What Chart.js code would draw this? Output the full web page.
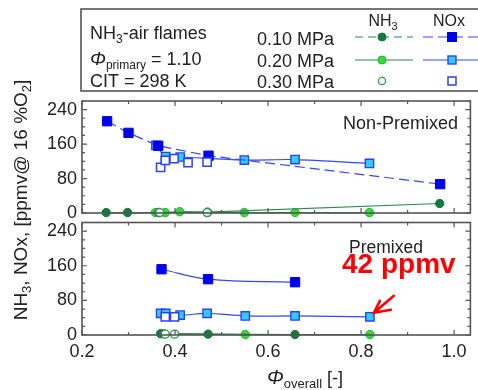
<!DOCTYPE html>
<html>
<head>
<meta charset="utf-8">
<script src="https://cdn.jsdelivr.net/npm/chart.js@4.4.1/dist/chart.umd.min.js"></script>
<style>
  body { margin: 0; background: #fff; }
  #wrap { position: relative; width: 478px; height: 390px; }
  #wrap canvas { position: absolute; left: 0; top: 0; }
</style>
</head>
<body>
<div id="wrap">
  <canvas id="botChart" width="478" height="390"></canvas>
  <canvas id="topChart" width="478" height="390"></canvas>
</div>
<script>
// axis ticks
const xTicks = [0.2, 0.4, 0.6, 0.8, 1.0];
const yTicks = [0, 80, 160, 240];

// Non-Premixed panel (top)
const np_nox010_x = [0.254, 0.300, 0.364, 0.472, 0.970];
const np_nox010_y = [213, 186, 156, 133, 67];
const np_nox020_x = [0.359, 0.380, 0.411, 0.549, 0.658, 0.818];
const np_nox020_y = [157, 131, 130, 123, 124, 115];
const np_nox030_x = [0.369, 0.379, 0.398, 0.428, 0.469];
const np_nox030_y = [106, 122, 126, 117, 118];
const np_nh3010_x = [0.252, 0.298, 0.365, 0.470, 0.969];
const np_nh3010_y = [1, 1, 1, 2, 22];
const np_nh3020_x = [0.358, 0.379, 0.410, 0.549, 0.658, 0.818];
const np_nh3020_y = [1, 1, 3, 1, 1, 1];
const np_nh3030_x = [0.367, 0.469];
const np_nh3030_y = [1, 1];

// Premixed panel (bottom)
const pm_nox010_x = [0.371, 0.471, 0.658];
const pm_nox010_y = [152, 129, 122];
const pm_nox020_x = [0.369, 0.380, 0.411, 0.469, 0.551, 0.658, 0.819];
const pm_nox020_y = [50, 50, 46, 50, 44, 44, 42];
const pm_nox030_x = [0.379, 0.399];
const pm_nox030_y = [42, 42];
const pm_nh3010_x = [0.369, 0.471, 0.658];
const pm_nh3010_y = [3, 2, 1];
const pm_nh3020_x = [0.375, 0.551, 0.819];
const pm_nh3020_y = [3, 1, 1];
const pm_nh3030_x = [0.379, 0.399];
const pm_nh3030_y = [2, 2];

const FONT = "'Liberation Sans', Arial, sans-serif";
const TXT = "#222";
Chart.defaults.font.family = FONT;

function pts(xs, ys) { return xs.map((x, i) => ({ x: x, y: ys[i] })); }

function noxSet(data, kind, dashed, tension) {
  const s = {
    data: data, showLine: kind !== 30, clip: false, borderWidth: 1.2,
    pointStyle: "rect", borderColor: "#3348f0", borderDash: dashed ? [10, 5] : [],
    tension: tension, order: 1
  };
  if (kind === 10) { s.pointRadius = 6.6; s.pointBackgroundColor = "#0000ee"; s.pointBorderColor = "#0000dd"; s.pointBorderWidth = 1; }
  if (kind === 20) { s.pointRadius = 5.9; s.pointBackgroundColor = "#33ccff"; s.pointBorderColor = "#2a40ff"; s.pointBorderWidth = 1.4; }
  if (kind === 30) { s.pointRadius = 5.8; s.pointBackgroundColor = "#ffffff"; s.pointBorderColor = "#2a40ff"; s.pointBorderWidth = 1.5; s.order = 0; }
  return s;
}
function nh3Set(data, kind, tension) {
  const s = {
    data: data, showLine: kind !== 30, clip: false, borderWidth: 1.2,
    pointStyle: "circle", borderColor: "#2a8a4c", tension: tension, order: 3
  };
  if (kind === 10) { s.pointRadius = 4.2; s.pointBackgroundColor = "#147a3c"; s.pointBorderColor = "#147a3c"; s.pointBorderWidth = 1; }
  if (kind === 20) { s.pointRadius = 4.2; s.pointBackgroundColor = "#33dd33"; s.pointBorderColor = "#22b03a"; s.pointBorderWidth = 1; }
  if (kind === 30) { s.pointRadius = 4; s.pointBackgroundColor = "#ffffff"; s.pointBorderColor = "#2f9c50"; s.pointBorderWidth = 1.4; s.order = 2; }
  return s;
}

// frame with inward ticks on all four sides
const framePlugin = {
  id: "frame",
  afterDatasetsDraw(chart) {
    const { ctx, chartArea: a, scales: { x, y } } = chart;
    ctx.save();
    ctx.strokeStyle = "#555";
    ctx.lineWidth = 1.2;
    ctx.beginPath();
    for (let v = 0; v <= 260; v += 20) {
      const p = y.getPixelForValue(v);
      const L = v % 80 === 0 ? 5 : 3;
      ctx.moveTo(a.left, p); ctx.lineTo(a.left + L, p);
      ctx.moveTo(a.right, p); ctx.lineTo(a.right - L, p);
    }
    for (let k = 2; k <= 10; k++) {
      const p = x.getPixelForValue(k / 10);
      const L = k % 2 === 0 ? 5 : 3;
      ctx.moveTo(p, a.top); ctx.lineTo(p, a.top + L);
      ctx.moveTo(p, a.bottom); ctx.lineTo(p, a.bottom - L);
    }
    ctx.stroke();
    ctx.lineWidth = 1.6;
    ctx.strokeRect(a.left, a.top, a.right - a.left, a.bottom - a.top);
    ctx.restore();
  }
};

// text made of runs: [text, size, dy, italic, bold]
function rich(ctx, parts, x, y, align) {
  let w = 0;
  parts.forEach(p => {
    ctx.font = (p[3] ? "italic " : "") + (p[4] ? "bold " : "") + p[1] + "px " + FONT;
    p.w = ctx.measureText(p[0]).width; w += p.w;
  });
  let cx = align === "center" ? x - w / 2 : x;
  parts.forEach(p => {
    ctx.font = (p[3] ? "italic " : "") + (p[4] ? "bold " : "") + p[1] + "px " + FONT;
    ctx.fillText(p[0], cx, y + (p[2] || 0));
    cx += p.w;
  });
}

function square(ctx, cx, cy, s, fill, stroke, lw) {
  ctx.fillStyle = fill; ctx.fillRect(cx - s / 2, cy - s / 2, s, s);
  ctx.strokeStyle = stroke; ctx.lineWidth = lw; ctx.strokeRect(cx - s / 2, cy - s / 2, s, s);
}
function circle(ctx, cx, cy, r, fill, stroke, lw) {
  ctx.beginPath(); ctx.arc(cx, cy, r, 0, Math.PI * 2);
  ctx.fillStyle = fill; ctx.fill();
  ctx.strokeStyle = stroke; ctx.lineWidth = lw; ctx.stroke();
}
function seg(ctx, x1, x2, y, color, dash) {
  ctx.save(); ctx.strokeStyle = color; ctx.lineWidth = 1.2; ctx.setLineDash(dash);
  ctx.beginPath(); ctx.moveTo(x1, y); ctx.lineTo(x2, y); ctx.stroke(); ctx.restore();
}

const topDecor = {
  id: "topDecor",
  afterDraw(chart) {
    const ctx = chart.ctx;
    ctx.save();
    ctx.strokeStyle = "#555"; ctx.lineWidth = 1.6;
    ctx.strokeRect(81, 9, 402, 82);
    ctx.fillStyle = TXT; ctx.textBaseline = "alphabetic";
    rich(ctx, [["NH", 18], ["3", 12, 4], ["-air flames", 18]], 90, 39);
    rich(ctx, [["\u03A6", 19, 0, true], ["primary", 12, 4], [" = 1.10", 18]], 90, 65);
    rich(ctx, [["CIT = 298 K", 18]], 90, 87);
    rich(ctx, [["0.10 MPa", 18]], 257, 45);
    rich(ctx, [["0.20 MPa", 18]], 257, 67);
    rich(ctx, [["0.30 MPa", 18]], 257, 88);
    rich(ctx, [["NH", 16], ["3", 11, 4]], 383, 26, "center");
    rich(ctx, [["NOx", 16]], 449, 26, "center");
    // legend samples
    seg(ctx, 355, 413, 37, "#2a8a4c", [8, 5]);
    circle(ctx, 382, 37, 4, "#147a3c", "#147a3c", 1);
    seg(ctx, 423, 478, 37, "#3348f0", [10, 5]);
    square(ctx, 452, 37, 9, "#0000ee", "#0000dd", 1);
    seg(ctx, 355, 413, 60, "#2a8a4c", []);
    circle(ctx, 382, 60, 4, "#33dd33", "#22b03a", 1);
    seg(ctx, 423, 478, 60, "#3348f0", []);
    square(ctx, 452, 60, 8, "#33ccff", "#2a40ff", 1.4);
    circle(ctx, 382, 81, 3.6, "#fff", "#2f9c50", 1.3);
    square(ctx, 452, 81, 8, "#fff", "#2a40ff", 1.5);
    ctx.fillStyle = TXT;
    rich(ctx, [["Non-Premixed", 18]], 343, 129);
    ctx.restore();
  }
};

const botDecor = {
  id: "botDecor",
  afterDraw(chart) {
    const { ctx, scales: { x, y } } = chart;
    ctx.save();
    ctx.fillStyle = TXT; ctx.textBaseline = "alphabetic";
    rich(ctx, [["Premixed", 17.5]], 349, 253);
    ctx.fillStyle = "#ff0000";
    rich(ctx, [["42 ppmv", 28, 0, false, true]], 342, 273);
    // arrow pointing at the 42 ppmv point
    const n = pm_nox020_x.length - 1;
    const tx = x.getPixelForValue(pm_nox020_x[n]) + 4;
    const ty = y.getPixelForValue(pm_nox020_y[n]) - 4;
    ctx.strokeStyle = "#ff0000"; ctx.lineWidth = 2.6; ctx.lineCap = "round";
    ctx.beginPath();
    ctx.moveTo(tx + 20, ty - 17); ctx.lineTo(tx, ty);
    ctx.moveTo(tx + 6, ty - 12); ctx.lineTo(tx, ty); ctx.lineTo(tx + 17, ty - 3);
    ctx.stroke();
    // axis titles
    ctx.fillStyle = TXT;
    rich(ctx, [["\u03A6", 20, 0, true], ["overall", 13, 4], [" [-]", 18]], 305, 384, "center");
    ctx.translate(20, 200);
    ctx.rotate(-Math.PI / 2);
    rich(ctx, [["NH", 19], ["3", 13, 4], [", NOx, [ppmv@ 16 %O", 19], ["2", 13, 4], ["]", 19]], 0, 7, "center");
    ctx.restore();
  }
};

function baseOptions(padTop, padBottom, showX) {
  return {
    responsive: false, animation: false, events: [],
    layout: { padding: { left: 0, right: 1, top: padTop, bottom: padBottom } },
    plugins: { legend: { display: false }, tooltip: { enabled: false } },
    scales: {
      x: {
        type: "linear", min: 0.2, max: 1.035, display: showX,
        grid: { display: false, drawTicks: false }, border: { display: false },
        afterBuildTicks: s => { s.ticks = xTicks.map(v => ({ value: v })); },
        afterFit: s => { s.height = 55; },
        ticks: { autoSkip: false, maxRotation: 0, padding: 6, color: TXT, font: { size: 18 },
          callback: v => Number(v).toFixed(1) }
      },
      y: {
        type: "linear", min: 0, max: 260,
        grid: { display: false, drawTicks: false }, border: { display: false },
        afterBuildTicks: s => { s.ticks = yTicks.map(v => ({ value: v })); },
        afterFit: s => { s.width = 82; },
        ticks: { autoSkip: false, padding: 5, color: TXT, font: { size: 18 } }
      }
    }
  };
}

new Chart(document.getElementById("topChart"), {
  type: "line",
  data: {
    datasets: [
      noxSet(pts(np_nox030_x, np_nox030_y), 30, false, 0),
      noxSet(pts(np_nox010_x, np_nox010_y), 10, true, 0),
      noxSet(pts(np_nox020_x, np_nox020_y), 20, false, 0.3),
      nh3Set(pts(np_nh3030_x, np_nh3030_y), 30, 0),
      nh3Set(pts(np_nh3010_x, np_nh3010_y), 10, 0),
      nh3Set(pts(np_nh3020_x, np_nh3020_y), 20, 0)
    ]
  },
  options: baseOptions(101, 122, false),
  plugins: [framePlugin, topDecor]
});

new Chart(document.getElementById("botChart"), {
  type: "line",
  data: {
    datasets: [
      noxSet(pts(pm_nox030_x, pm_nox030_y), 30, false, 0),
      noxSet(pts(pm_nox010_x, pm_nox010_y), 10, false, 0.4),
      noxSet(pts(pm_nox020_x, pm_nox020_y), 20, false, 0.3),
      nh3Set(pts(pm_nh3030_x, pm_nh3030_y), 30, 0),
      nh3Set(pts(pm_nh3010_x, pm_nh3010_y), 10, 0.3),
      nh3Set(pts(pm_nh3020_x, pm_nh3020_y), 20, 0.3)
    ]
  },
  options: baseOptions(222.5, 0, true),
  plugins: [framePlugin, botDecor]
});
</script>
</body>
</html>
